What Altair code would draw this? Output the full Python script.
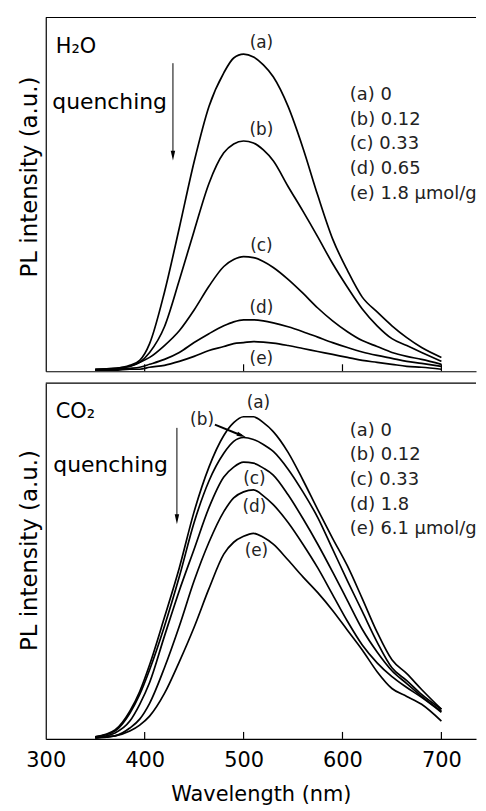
import altair as alt
import pandas as pd

FONT = "DejaVu Sans"

# ---------------- data ----------------
wavelength = [350, 370, 385, 395, 405, 420, 435, 450, 465, 480, 490, 500, 510,
              520, 530, 545, 560, 575, 590, 605, 620, 635, 650, 665, 680, 700]

curve_ids = ["a", "b", "c", "d", "e"]

# H2O panel (arbitrary units)
h2o_a = [2, 3, 6, 11, 28, 80, 145, 212, 268, 302, 317, 321, 318, 310, 298, 268, 226, 178, 134, 102, 75, 60, 46, 34, 24, 14]
h2o_b = [2, 3, 5, 9, 19, 45, 92, 142, 190, 221, 230, 233, 231, 224, 213, 187, 162, 136, 109, 85, 63, 46, 33, 26, 19, 10]
h2o_c = [1, 2, 5, 9, 14, 26, 41, 62, 86, 106, 113, 116, 115, 111, 105, 93, 79, 64, 51, 40, 31, 25, 19, 15, 12, 7]
h2o_d = [1, 2, 3, 4, 7, 12, 19, 29, 38, 46, 50, 52, 52, 51, 49, 45, 40, 34.5, 29, 24, 19.5, 16, 13, 10, 8, 5]
h2o_e = [1, 1, 2, 2, 4, 6, 10, 15, 21, 25, 28, 29, 30, 29.5, 28.5, 26, 23, 20, 17, 14, 11, 9, 7, 5, 4, 2]

# CO2 panel (arbitrary units)
co2_a = [2, 9, 28, 48, 75, 123, 173, 230, 275, 307, 320, 326, 326, 320, 311, 290, 262, 232, 203, 175, 142, 108, 80, 66, 50, 30]
co2_b = [2, 8, 26, 45, 70, 114, 164, 219, 261, 289, 301, 305, 303, 298, 291, 273, 250, 224, 192, 160, 129, 98, 72, 59, 45, 30]
co2_c = [1, 6, 18, 35, 57, 104, 150, 192, 234, 265, 275, 280, 279, 274, 267, 247, 223, 197, 169, 140, 111, 88, 69, 56, 43, 28]
co2_d = [1, 3, 11, 20, 36, 72, 114, 160, 199, 230, 244, 250, 252, 246, 237, 219, 197, 173, 146, 119, 95, 77, 63, 52, 42, 27]
co2_e = [1, 3, 8, 14, 23, 46, 78, 113, 152, 187, 199, 205, 208, 204, 197, 181, 164, 148, 130, 110, 90, 68, 51, 43, 35, 18]

curve_labels = ["(a)", "(b)", "(c)", "(d)", "(e)"]
h2o_label_wl = [518, 518, 518, 518, 518]
h2o_label_int = [332, 244, 127, 64, 12]
co2_label_wl = [515, 458, 511, 511, 513]
co2_label_int = [340, 323, 263, 235, 190]

h2o_legend = ["(a) 0", "(b) 0.12", "(c) 0.33", "(d) 0.65", "(e) 1.8 \u03bcmol/g"]
co2_legend = ["(a) 0", "(b) 0.12", "(c) 0.33", "(d) 1.8", "(e) 6.1 \u03bcmol/g"]

axis_ticks = [300, 400, 500, 600, 700]
inner_ticks = [400, 500, 600, 700]

# arrow from label (b) to curve (b) in CO2 panel
b_arrow_wl = [471, 498]
b_arrow_int = [318, 307]

W = 433
H1 = 356
H2 = 358
XDOM = [300, 735]
ARROW = "M -0.45 -1 L 0.45 -1 L 0 1 Z"


def long_df(cols):
    rows = []
    for cid, vals in zip(curve_ids, cols):
        for w, v in zip(wavelength, vals):
            rows.append({"wavelength": w, "intensity": v, "curve": cid})
    return pd.DataFrame(rows)


def panel(cols, ymax, H, name, name_y, legend_lines, legend_y, lab_wl, lab_int,
          show_x, title_y, q_x, q_y, arr_x, arr_y0, arr_y1, extra=None):
    df = long_df(cols)
    xscale = alt.Scale(domain=XDOM, nice=False, zero=False)
    yscale = alt.Scale(domain=[0, ymax], nice=False, zero=False)
    if show_x:
        xaxis = alt.Axis(values=axis_ticks, labels=True, ticks=False, tickSize=0,
                         grid=False, domainColor="black", domainWidth=1.2,
                         labelFont=FONT, labelFontSize=21, labelColor="black",
                         labelPadding=11, labelFlush=False,
                         title="Wavelength (nm)", titleFont=FONT, titleFontSize=21,
                         titleFontWeight="normal", titleColor="black", titlePadding=13)
    else:
        xaxis = alt.Axis(values=axis_ticks, labels=False, ticks=False, tickSize=0,
                         grid=False, domainColor="black", domainWidth=1.2, title=None)
    yaxis = alt.Axis(labels=False, ticks=False, tickSize=0, grid=False,
                     domainColor="black", domainWidth=1.2,
                     title="PL intensity (a.u.)", titleFont=FONT, titleFontSize=23,
                     titleFontWeight="normal", titleColor="black", titlePadding=4,
                     titleY=title_y)

    lines = alt.Chart(df).mark_line(color="black", strokeWidth=1.7,
                                    interpolate="monotone").encode(
        x=alt.X("wavelength:Q", scale=xscale, axis=xaxis),
        y=alt.Y("intensity:Q", scale=yscale, axis=yaxis),
        detail="curve:N",
    )

    tdf = pd.DataFrame({"wavelength": inner_ticks})
    ticks = alt.Chart(tdf).mark_rule(color="black", strokeWidth=1.2).encode(
        x="wavelength:Q", y=alt.value(H), y2=alt.value(H - 7))

    one = pd.DataFrame({"k": [0]})
    top_border = alt.Chart(one).mark_rule(color="black", strokeWidth=1.2).encode(
        x=alt.value(0), x2=alt.value(W), y=alt.value(0))

    title_txt = alt.Chart(one).mark_text(align="left", baseline="alphabetic",
                                         font=FONT, fontSize=21, color="black").encode(
        x=alt.value(10), y=alt.value(name_y), text=alt.value(name))

    legend = alt.Chart(one).mark_text(align="left", baseline="alphabetic",
                                      font=FONT, fontSize=18, color="#222",
                                      lineHeight=24.8).encode(
        x=alt.value(306), y=alt.value(legend_y), text=alt.value(legend_lines))

    ldf = pd.DataFrame({"wavelength": lab_wl, "intensity": lab_int, "label": curve_labels})
    labels = alt.Chart(ldf).mark_text(align="center", baseline="middle", font=FONT,
                                      fontSize=17, color="#222").encode(
        x="wavelength:Q", y="intensity:Q", text="label:N")

    quench = alt.Chart(one).mark_text(align="right", baseline="alphabetic", font=FONT,
                                      fontSize=22, color="black").encode(
        x=alt.value(q_x), y=alt.value(q_y), text=alt.value("quenching"))

    shaft = alt.Chart(one).mark_rule(color="black", strokeWidth=1).encode(
        x=alt.value(arr_x), y=alt.value(arr_y0), y2=alt.value(arr_y1 - 6))
    head = alt.Chart(one).mark_point(shape=ARROW, filled=True, size=100, color="black",
                                     opacity=1).encode(
        x=alt.value(arr_x), y=alt.value(arr_y1 - 5))

    layers = [lines, ticks, top_border, title_txt, legend, labels, quench, shaft, head]
    if extra is not None:
        layers += extra
    return alt.layer(*layers).properties(width=W, height=H)


# extra arrow for label (b) in the CO2 panel
adf = pd.DataFrame({"wavelength": [b_arrow_wl[0]], "intensity": [b_arrow_int[0]],
                    "wl2": [b_arrow_wl[1]], "int2": [b_arrow_int[1]]})
b_line = alt.Chart(adf).mark_rule(color="black", strokeWidth=2).encode(
    x="wavelength:Q", y="intensity:Q", x2="wl2:Q", y2="int2:Q")
hdf = pd.DataFrame({"wavelength": [b_arrow_wl[1]], "intensity": [b_arrow_int[1]]})
b_head = alt.Chart(hdf).mark_point(shape=ARROW, filled=True, size=90, color="black",
                                   opacity=1, angle=292).encode(
    x="wavelength:Q", y="intensity:Q")

top = panel([h2o_a, h2o_b, h2o_c, h2o_d, h2o_e], 358, H1, "H\u2082O", 36,
            h2o_legend, 83, h2o_label_wl, h2o_label_int, False, 160,
            122, 92, 128, 46, 144)
bottom = panel([co2_a, co2_b, co2_c, co2_d, co2_e], 360, H2, "CO\u2082", 35,
               co2_legend, 53, co2_label_wl, co2_label_int, True, 168,
               123, 89, 132, 45, 142, extra=[b_line, b_head])

chart = alt.vconcat(top, bottom, spacing=7).properties(
    padding={"top": 5, "left": 10, "right": 0, "bottom": 0}
).configure_view(stroke="transparent")

chart.save("out.html", embed_options={"renderer": "svg", "actions": False})
